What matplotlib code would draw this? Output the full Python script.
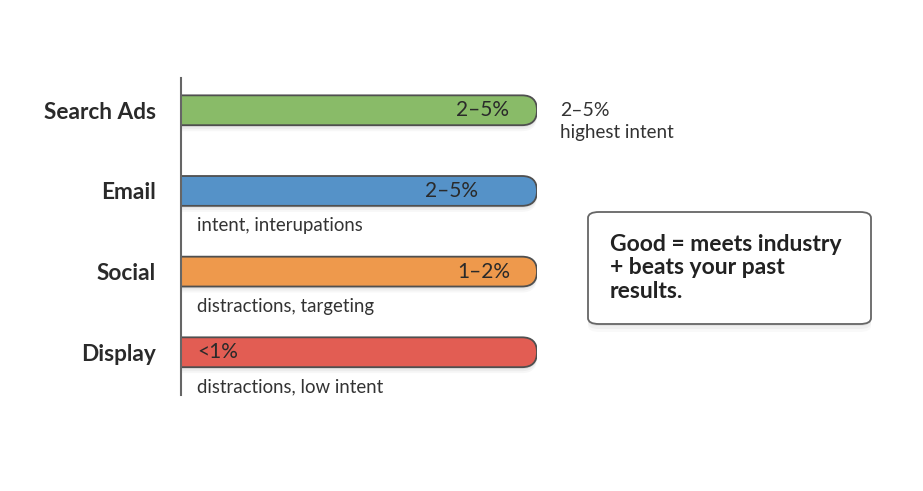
import matplotlib
matplotlib.use("Agg")
import matplotlib.pyplot as plt
from matplotlib.patches import FancyBboxPatch

plt.rcParams['font.family'] = ['Lato', 'DejaVu Sans']

# Data
channels = ['Search Ads', 'Email', 'Social', 'Display']
bar_length = [100, 100, 100, 100]
rate_labels = ['2–5%', '2–5%', '1–2%', '<1%']
notes = ['', 'intent, interupations', 'distractions, targeting', 'distractions, low intent']
colors = ['#89BB68', '#5592C8', '#EE994C', '#E25D53']
box_text = 'Good = meets industry\n+ beats your past\nresults.'

W, H = 923, 491
fig = plt.figure(figsize=(W / 100, H / 100), dpi=100)
ax = fig.add_axes([181 / W, 1 - 395 / H, (537 - 181) / W, (395 - 78) / H])
ax.set_xlim(0, 100)
ax.set_ylim(3.53, -0.40)

bar_h = 0.37
px_x = (537 - 181) / 100.0   # px per x unit
px_y = (395 - 78) / 3.93     # px per y unit
aspect = px_x / px_y
r = bar_h / 2 / aspect

for i, (v, c) in enumerate(zip(bar_length, colors)):
    # soft shadow
    for k, a in [(6, 0.03), (4, 0.04), (2, 0.05)]:
        sh = FancyBboxPatch((-r, i - bar_h / 2 + k / px_y), v + r, bar_h,
                            boxstyle=f"round,pad=0,rounding_size={r}",
                            mutation_aspect=aspect, fc='black', ec='none',
                            alpha=a, zorder=1)
        ax.add_patch(sh)
    p = FancyBboxPatch((-r, i - bar_h / 2), v + r, bar_h,
                       boxstyle=f"round,pad=0,rounding_size={r}",
                       mutation_aspect=aspect, fc=c, ec='#4f4f4f', lw=1.3, zorder=2)
    ax.add_patch(p)

for i, lab in enumerate(rate_labels):
    if lab.startswith('<'):
        ax.text(4.5, i, lab, ha='left', va='center', fontsize=15, color='#2a2a2a', zorder=3)
    else:
        xr = [92, 83.5, 92.5][i]
        ax.text(xr, i, lab, ha='right', va='center', fontsize=15, color='#2a2a2a', zorder=3)

for i, n in enumerate(notes):
    if n:
        ax.text(4.5, i + 0.43, n, ha='left', va='center', fontsize=13.4, color='#333333')

ax.text(106.5, 0.0, rate_labels[0], ha='left', va='center', fontsize=14,
        color='#333333', clip_on=False)
ax.text(106.5, 0.27, 'highest intent', ha='left', va='center', fontsize=13.5,
        color='#333333', clip_on=False)

ax.set_yticks(range(len(channels)))
ax.set_yticklabels(channels, fontsize=16.3, fontweight='bold', color='#2a2a2a')
ax.tick_params(axis='y', length=0, pad=18)
ax.set_xticks([])
for s in ['top', 'right', 'bottom']:
    ax.spines[s].set_visible(False)
ax.spines['left'].set_color('#666666')
ax.spines['left'].set_linewidth(1.5)

# callout box
bx, by, bw, bh = 588, 212, 283, 112
for k, a in [(8, 0.025), (5, 0.035), (2, 0.05)]:
    fig.add_artist(FancyBboxPatch((bx / W, 1 - (by + bh + k) / H), bw / W, bh / H,
                                  boxstyle="round,pad=0,rounding_size=0.012",
                                  transform=fig.transFigure, fc='black', ec='none',
                                  alpha=a, zorder=1))
fig.add_artist(FancyBboxPatch((bx / W, 1 - (by + bh) / H), bw / W, bh / H,
                              boxstyle="round,pad=0,rounding_size=0.012",
                              transform=fig.transFigure, fc='white', ec='#666666',
                              lw=1.3, zorder=2))
fig.text(610 / W, 1 - 268 / H, box_text, ha='left', va='center', fontsize=16.5,
         fontweight='bold', color='#222222', linespacing=1.16, zorder=3)

fig.savefig('out.png', dpi=100)
